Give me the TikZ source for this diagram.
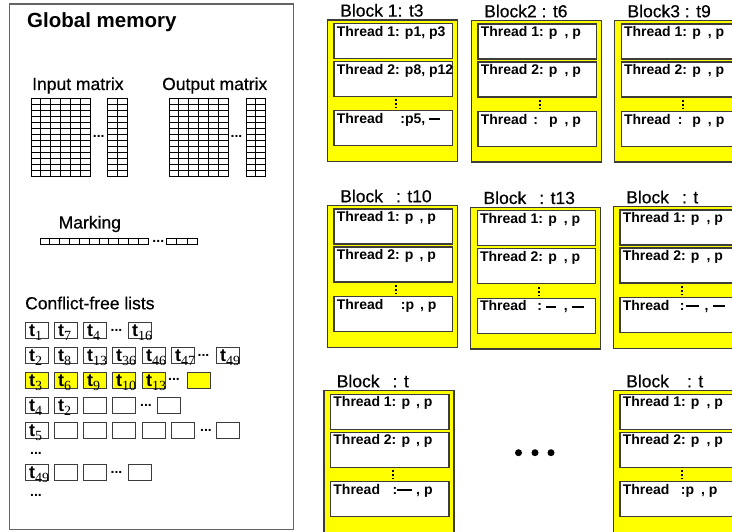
\documentclass[tikz,border=0pt]{standalone}
\usepackage{fontspec}
\setmainfont{Liberation Sans}
\newfontfamily\subfont{Liberation Serif}
\newfontfamily\medfont[FakeBold=0.45]{Liberation Sans}

\definecolor{blockyellow}{RGB}{255,255,0}
\definecolor{framegray}{RGB}{100,100,100}
\definecolor{edgegray}{RGB}{60,60,60}

% t with its index set low, as in the lists
\newcommand{\tsub}[1]{t\raisebox{-4pt}{\subfont\mdseries\fontsize{14}{14}\selectfont #1}}
% empty entry of a pair
\newcommand{\nopair}[1][11pt]{\rule[3.2pt]{#1}{2.1pt}}
% one block: name, x, y, title, three thread lines
\newcommand{\threadblock}[7]{%
  \node[block] (#1) at (#2,#3) {};
  \node[blocktitle] (#1-title) at ([xshift=13.3pt,yshift=2.7pt]#1.north west) {#4};
  \node[thread] (#1-a) at ([xshift=6.6pt,yshift=-3.5pt]#1.north west) {};
  \node[thread] (#1-b) at ([xshift=6.6pt,yshift=-41.5pt]#1.north west) {};
  \node[thread] (#1-c) at ([xshift=6.6pt,yshift=-91pt]#1.north west) {};
  \node[threadtext] (#1-at) at ([xshift=3.3pt,yshift=-13.3pt]#1-a.north west) {#5};
  \node[threadtext] (#1-bt) at ([xshift=3.3pt,yshift=-13.3pt]#1-b.north west) {#6};
  \node[threadtext] (#1-ct) at ([xshift=3.3pt,yshift=-13.3pt]#1-c.north west) {#7};
  \draw[vdots] ([xshift=62.7pt,yshift=-2.5pt]#1-b.south west) -- ([xshift=62.7pt,yshift=2pt]#1-c.north west);
}

\begin{document}
\begin{tikzpicture}
  [x=1pt,y=-1pt,
   memframe/.style={draw=framegray,line width=1.3pt,anchor=north west,inner sep=0,
     minimum width=284pt,minimum height=525.5pt},
   bigtitle/.style={anchor=base west,inner sep=0,font=\bfseries\fontsize{20.5}{24}\selectfont},
   memlabel/.style={anchor=base west,inner sep=0,font=\medfont\fontsize{17.5}{20}\selectfont},
   gridline/.style={draw=black,line width=1pt},
   more/.style={anchor=base,inner sep=0,font=\bfseries\fontsize{14}{14}\selectfont},
   listbox/.style={draw=edgegray,line width=1.1pt,fill=white,anchor=north west,inner sep=0,
     minimum width=23pt,minimum height=16pt},
   hitbox/.style={listbox,fill=blockyellow},
   tname/.style={anchor=base west,inner sep=0,font=\bfseries\fontsize{18}{18}\selectfont},
   block/.style={draw=edgegray,fill=blockyellow,line width=1.3pt,anchor=north west,inner sep=0,
     minimum width=130pt,minimum height=141.5pt},
   blocktitle/.style={anchor=base west,inner sep=0,font=\medfont\fontsize{17.5}{20}\selectfont},
   thread/.style={draw=edgegray,fill=white,line width=1.2pt,anchor=north west,inner sep=0,
     minimum width=118.5pt,minimum height=35pt},
   threadtext/.style={anchor=base west,inner sep=0,font=\bfseries\fontsize{14}{16}\selectfont},
   vdots/.style={line width=2pt,dash pattern=on 2pt off 2pt},
   bigdot/.style={circle,fill=black,inner sep=0,minimum size=7pt}]

  \useasboundingbox (0,0) rectangle (732,532);
  \clip (0,0) rectangle (732,532);
  \fill[white] (0,0) rectangle (732,532);

  % global memory
  \node[memframe] (gmem) at (9,3.5) {};
  \node[bigtitle] (gmem-title) at (27,27.5) {Global memory};

  % input and output matrices
  \node[memlabel] (inlabel) at (32,90) {Input matrix};
  \node[memlabel] (outlabel) at (162,90) {Output matrix};
  \foreach \gx/\gc in {31/6, 107.2/2, 169/6, 246/2}
    \foreach \c in {1,...,\gc}
      \foreach \r in {1,...,13}
        \draw[gridline] ({\gx+(\c-1)*9.9},{99+(\r-1)*6}) rectangle ++(9.9,6);
  \node[more] (in-dots) at (98.8,138) {...};
  \node[more] (out-dots) at (236.5,138) {...};

  % marking
  \node[memlabel] (marklabel) at (58.5,228.5) {Marking};
  \foreach \mx/\mc/\mw in {40/11/9.85, 166.5/3/10.4}
    \foreach \c in {1,...,\mc}
      \draw[gridline] ({\mx+(\c-1)*\mw},238.5) rectangle ++(\mw,6.5);
  \node[more] (mark-dots) at (158.3,242.5) {...};

  % conflict-free lists
  \node[memlabel] (listlabel) at (25,309.3) {Conflict-free lists};

  \foreach \i/\x/\k in {1/25/1, 2/54/7, 3/83/4, 4/128/16}{
    \node[listbox] (ra-\i) at (\x,322) {};
    \node[tname] (ra-\i-t) at ([xshift=4pt,yshift=3pt]ra-\i.south west) {\tsub{\k}};
  }
  \node[more] (ra-dots) at (116.5,331) {...};

  \foreach \i/\x/\k in {1/25/2, 2/54/8, 3/83/13, 4/112/36, 5/142/46, 6/171/47, 7/216/49}{
    \node[listbox] (rb-\i) at (\x,347) {};
    \node[tname] (rb-\i-t) at ([xshift=4pt,yshift=3pt]rb-\i.south west) {\tsub{\k}};
  }
  \node[more] (rb-dots) at (203.5,356) {...};

  \foreach \i/\x/\k in {1/25/3, 2/54/6, 3/83/9, 4/112/10, 5/142/13}{
    \node[hitbox] (rc-\i) at (\x,372) {};
    \node[tname] (rc-\i-t) at ([xshift=4pt,yshift=3pt]rc-\i.south west) {\tsub{\k}};
  }
  \node[hitbox] (rc-6) at (187,372) {};
  \node[more] (rc-dots) at (174,381) {...};

  \foreach \i/\x/\k in {1/25/4, 2/54/2}{
    \node[listbox] (rd-\i) at (\x,397) {};
    \node[tname] (rd-\i-t) at ([xshift=4pt,yshift=3pt]rd-\i.south west) {\tsub{\k}};
  }
  \foreach \i/\x in {3/83, 4/112, 5/157}
    \node[listbox] (rd-\i) at (\x,397) {};
  \node[more] (rd-dots) at (146,406) {...};

  \node[listbox] (re-1) at (25,422) {};
  \node[tname] (re-1-t) at ([xshift=4pt,yshift=3pt]re-1.south west) {\tsub{5}};
  \foreach \i/\x in {2/54, 3/83, 4/112, 5/142, 6/171, 7/216}
    \node[listbox] (re-\i) at (\x,422) {};
  \node[more] (re-dots) at (206,431) {...};

  \node[more] (rows-dots) at (36,454) {...};

  \node[listbox] (rf-1) at (25,464) {};
  \node[tname] (rf-1-t) at ([xshift=4pt,yshift=3pt]rf-1.south west) {\tsub{49}};
  \foreach \i/\x in {2/54, 3/83, 4/128}
    \node[listbox] (rf-\i) at (\x,464) {};
  \node[more] (rf-dots) at (116.5,473) {...};

  \node[more] (lists-dots) at (36,496) {...};

  % thread blocks
  \threadblock{b1}{326.7}{19.3}{Block 1: t3}
    {Thread 1: p1, p3}{Thread 2: p8, p12}{Thread\hspace{17pt}:p5, \nopair}
  \threadblock{b2}{470.7}{20}{Block2 : t6}
    {Thread 1: p\hspace{7pt}, p}{Thread 2: p\hspace{7pt}, p}{Thread\hspace{6pt}:\hspace{11pt}p\hspace{7pt}, p}
  \threadblock{b3}{614}{20}{Block3 : t9}
    {Thread 1: p\hspace{7pt}, p}{Thread 2: p\hspace{7pt}, p}{Thread\hspace{7pt}:\hspace{10pt}p\hspace{7pt}, p}
  \threadblock{b4}{326.7}{205}{Block\hspace{13pt}: t10}
    {Thread 1: p\hspace{6pt}, p}{Thread 2: p\hspace{6pt}, p}{Thread\hspace{17.5pt}:p\hspace{6pt}, p}
  \threadblock{b5}{470}{206.7}{Block\hspace{13pt}: t13}
    {Thread 1: p\hspace{7pt}, p}{Thread 2: p\hspace{7pt}, p}{Thread\hspace{10.5pt}:\hspace{4pt}\nopair[10pt]\hspace{8pt},\hspace{4pt}\nopair[12pt]}
  \threadblock{b6}{612.7}{206}{Block\hspace{13pt}: t}
    {Thread 1: p\hspace{7pt}, p}{Thread 2: p\hspace{7pt}, p}{Thread\hspace{10.5pt}:\hspace{1pt}\nopair[13pt]\hspace{6pt},\hspace{4pt}\nopair[12pt]}
  \threadblock{b7}{323.3}{390}{Block\hspace{13pt}: t}
    {Thread 1: p\hspace{6pt}, p}{Thread 2: p\hspace{6pt}, p}{Thread\hspace{12.5pt}:\nopair[15pt]\hspace{4pt}, p}
  \threadblock{b8}{612.7}{390}{Block\hspace{18pt}: t}
    {Thread 1: p\hspace{7pt}, p}{Thread 2: p\hspace{7pt}, p}{Thread\hspace{11.5pt}:p\hspace{7pt}, p}

  % more blocks
  \foreach \i/\x in {1/518.5, 2/535, 3/551}
    \node[bigdot] (more-\i) at (\x,452.7) {};

\end{tikzpicture}
\end{document}
